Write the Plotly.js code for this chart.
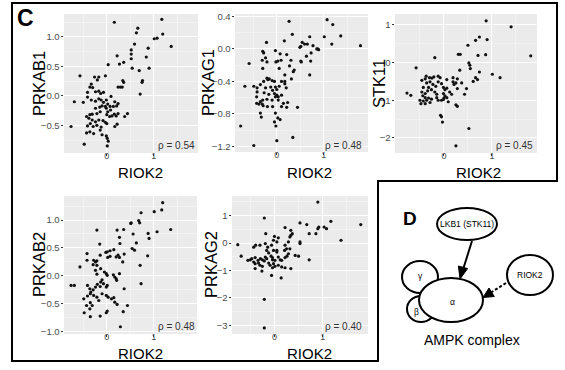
<!DOCTYPE html>
<html><head><meta charset="utf-8">
<script src="https://cdn.plot.ly/plotly-3.0.1.min.js"></script>
<style>html,body{margin:0;padding:0;background:#fff}#plot{width:565px;height:370px}</style>
</head><body><div id="plot"></div>
<script>
// ---------- data ----------
const panelNames = ["PRKAB1","PRKAG1","STK11","PRKAB2","PRKAG2"];
const xName = "RIOK2";
const rhoLabels = ["ρ = 0.54","ρ = 0.48","ρ = 0.45","ρ = 0.48","ρ = 0.40"];
const xTickVals = [0, 1];

const PRKAB1_pts = [[0.16,1.25],[1.17,1.30],[0.66,1.15],[0.63,1.07],[1.19,1.05],[1.01,0.97],[1.07,0.98],[1.37,0.84],[0.59,0.88],[0.52,0.78],[0.88,0.81],[0.52,0.71],[0.22,0.68],[0.52,0.63],[0.84,0.66],[0.36,0.57],[0.27,0.54],[0.03,0.53],[0.54,0.47],[0.69,0.43],[0.90,0.47],[-0.57,0.34],[-0.26,0.32],[-0.17,0.32],[-0.03,0.34],[-0.20,0.27],[0.34,0.26],[0.36,0.23],[0.76,0.26],[0.75,0.23],[-0.33,0.20],[0.24,0.15],[0.29,0.15],[0.33,0.15],[-0.36,0.15],[-0.30,0.14],[-0.41,0.06],[-0.24,0.07],[-0.17,0.08],[-0.13,0.04],[-0.07,0.06],[0.71,0.03],[-0.69,-0.10],[-0.50,-0.11],[-0.41,-0.02],[-0.33,-0.07],[-0.24,-0.09],[-0.17,-0.05],[-0.12,-0.07],[-0.07,-0.11],[-0.01,-0.07],[0.02,-0.14],[-0.03,-0.18],[-0.01,-0.21],[0.07,-0.18],[0.14,-0.18],[0.21,-0.17],[0.17,-0.10],[0.24,-0.13],[0.08,-0.24],[0.02,-0.27],[0.24,-0.30],[0.20,-0.34],[0.16,-0.31],[0.00,-0.32],[0.06,-0.35],[0.11,-0.34],[0.44,-0.30],[0.38,-0.35],[-0.43,-0.35],[-0.36,-0.32],[-0.31,-0.31],[-0.21,-0.30],[-0.14,-0.27],[-0.24,-0.21],[-0.15,-0.19],[-0.10,-0.17],[-0.38,-0.38],[-0.31,-0.41],[-0.24,-0.44],[-0.17,-0.41],[-0.08,-0.42],[-0.03,-0.45],[-0.35,-0.47],[-0.41,-0.51],[-0.29,-0.52],[-0.21,-0.50],[-0.12,-0.53],[0.00,-0.47],[0.22,-0.48],[0.17,-0.52],[-0.76,-0.52],[-0.43,-0.63],[-0.36,-0.61],[-0.28,-0.64],[-0.14,-0.58],[-0.10,-0.66],[-0.01,-0.68],[0.01,-0.72],[0.03,-0.77],[-0.48,-0.82],[0.01,-0.85],[0.09,-0.01]];

const PRKAG1_pts = [[0.26,0.34],[1.07,0.36],[1.19,0.30],[0.33,0.18],[0.70,0.15],[1.01,0.15],[1.36,0.16],[1.78,0.04],[1.17,0.06],[0.16,0.10],[-0.22,0.08],[0.54,0.08],[0.59,0.06],[0.65,0.06],[0.51,0.03],[0.49,0.02],[0.77,0.04],[0.87,0.00],[0.89,-0.01],[0.85,0.00],[-0.03,-0.02],[-0.30,-0.03],[-0.28,-0.05],[0.07,-0.06],[0.21,-0.07],[0.73,-0.05],[0.63,-0.09],[0.52,-0.16],[0.51,-0.15],[0.72,-0.15],[-0.24,-0.11],[-0.31,-0.14],[-0.59,-0.18],[-0.21,-0.16],[-0.02,-0.16],[0.02,-0.15],[0.09,-0.14],[0.30,-0.14],[-0.30,-0.24],[0.05,-0.24],[0.27,-0.21],[0.37,-0.26],[0.35,-0.28],[0.70,-0.32],[0.17,-0.32],[0.31,-0.37],[-0.21,-0.36],[-0.19,-0.38],[-0.16,-0.37],[-0.28,-0.40],[-0.10,-0.39],[-0.05,-0.40],[0.10,-0.40],[0.17,-0.40],[-0.68,-0.46],[-0.49,-0.46],[-0.42,-0.48],[-0.35,-0.44],[-0.24,-0.48],[-0.13,-0.47],[-0.09,-0.51],[-0.03,-0.47],[0.00,-0.50],[0.05,-0.46],[0.17,-0.43],[0.20,-0.48],[-0.42,-0.53],[-0.27,-0.54],[-0.17,-0.56],[-0.05,-0.55],[0.00,-0.57],[-0.03,-0.59],[0.03,-0.59],[0.10,-0.57],[-0.43,-0.59],[-0.30,-0.63],[-0.21,-0.62],[-0.10,-0.63],[0.03,-0.63],[0.14,-0.67],[0.23,-0.66],[0.44,-0.72],[-0.43,-0.67],[-0.38,-0.68],[-0.35,-0.65],[-0.31,-0.68],[-0.29,-0.70],[-0.20,-0.71],[-0.09,-0.71],[0.10,-0.71],[0.21,-0.72],[-0.35,-0.79],[-0.33,-0.84],[-0.03,-0.79],[0.02,-0.85],[0.07,-0.87],[-0.05,-0.90],[-0.02,-0.95],[-0.77,-0.95],[0.00,-1.13],[0.34,-1.09],[-0.49,-1.19]];

const STK11_pts = [[0.88,1.11],[1.40,0.95],[0.74,0.68],[0.66,0.59],[0.90,0.61],[0.50,0.46],[0.30,0.22],[0.34,0.22],[-0.19,0.13],[0.71,0.19],[0.87,0.21],[1.81,0.18],[0.52,-0.01],[0.54,-0.07],[-0.58,-0.14],[0.55,-0.16],[0.33,-0.20],[0.74,-0.25],[1.01,-0.31],[1.17,-0.40],[-0.37,-0.36],[-0.30,-0.40],[-0.25,-0.41],[-0.21,-0.38],[-0.12,-0.36],[-0.08,-0.40],[-0.46,-0.47],[-0.39,-0.43],[0.06,-0.45],[0.19,-0.40],[0.28,-0.43],[0.66,-0.40],[0.70,-0.45],[0.61,-0.50],[-0.36,-0.54],[-0.29,-0.51],[-0.23,-0.58],[-0.12,-0.51],[-0.05,-0.56],[0.19,-0.51],[0.21,-0.58],[0.25,-0.54],[0.37,-0.54],[-0.17,-0.63],[-0.43,-0.66],[-0.32,-0.66],[-0.26,-0.72],[-0.01,-0.66],[0.02,-0.72],[0.06,-0.68],[0.28,-0.69],[0.47,-0.69],[-0.77,-0.81],[-0.69,-0.87],[-0.46,-0.78],[-0.39,-0.82],[-0.34,-0.75],[-0.19,-0.78],[-0.15,-0.84],[-0.01,-0.82],[0.02,-0.88],[0.06,-0.93],[0.00,-0.94],[0.12,-0.78],[0.16,-0.84],[0.43,-0.84],[-0.44,-0.88],[-0.39,-0.93],[-0.32,-0.94],[-0.50,-1.00],[-0.43,-1.02],[-0.36,-1.00],[-0.26,-0.97],[-0.15,-0.93],[-0.12,-1.00],[-0.05,-1.00],[-0.01,-0.98],[-0.48,-1.09],[-0.39,-1.09],[-0.29,-1.06],[0.09,-1.04],[0.25,-1.12],[0.28,-1.16],[-0.07,-1.40],[-0.05,-1.44],[-0.03,-1.58],[0.52,-1.75],[0.25,-2.21]];

const PRKAB2_pts = [[1.19,1.31],[1.01,1.15],[1.17,1.18],[0.73,1.13],[0.68,0.99],[0.70,0.95],[0.52,0.95],[0.51,0.94],[-0.21,0.82],[0.22,0.82],[0.36,0.83],[1.36,0.83],[1.07,0.79],[0.88,0.76],[0.56,0.75],[0.27,0.69],[0.90,0.67],[0.63,0.59],[-0.15,0.57],[0.28,0.58],[0.54,0.49],[0.59,0.46],[0.15,0.47],[0.07,0.45],[0.01,0.43],[-0.02,0.42],[0.07,0.35],[0.02,0.33],[-0.42,0.40],[-0.14,0.37],[0.24,0.37],[0.27,0.33],[0.20,0.34],[0.37,0.39],[0.87,0.36],[-0.42,0.28],[-0.28,0.28],[-0.24,0.25],[-0.21,0.27],[-0.29,0.20],[-0.21,0.19],[0.34,0.25],[-0.57,0.16],[0.71,0.19],[-0.13,0.13],[-0.24,0.10],[-0.21,0.03],[-0.05,0.07],[-0.01,0.04],[0.01,0.01],[0.14,0.02],[0.17,-0.02],[0.20,-0.05],[0.21,-0.08],[0.27,0.04],[-0.76,-0.17],[-0.69,-0.17],[-0.41,-0.17],[-0.36,-0.23],[-0.29,-0.25],[-0.34,-0.29],[-0.35,-0.32],[-0.41,-0.36],[-0.24,-0.20],[-0.20,-0.15],[-0.14,-0.19],[-0.13,-0.11],[-0.10,-0.07],[-0.07,-0.14],[-0.01,-0.20],[0.01,-0.17],[0.37,-0.23],[0.73,-0.14],[-0.49,-0.41],[-0.28,-0.35],[-0.21,-0.38],[-0.10,-0.32],[-0.01,-0.35],[0.03,-0.38],[0.10,-0.41],[0.15,-0.39],[-0.17,-0.44],[-0.35,-0.48],[-0.31,-0.53],[0.17,-0.47],[0.22,-0.51],[0.44,-0.53],[-0.43,-0.53],[-0.36,-0.59],[-0.48,-0.66],[-0.35,-0.73],[-0.14,-0.72],[-0.01,-0.66],[0.01,-0.63],[0.35,-0.64],[0.29,-0.91]];

const PRKAG2_pts = [[0.90,1.49],[-0.21,0.91],[1.17,0.79],[0.53,0.73],[0.67,0.67],[1.79,0.67],[0.90,0.52],[0.92,0.58],[1.03,0.58],[1.08,0.52],[0.22,0.56],[0.34,0.46],[0.37,0.34],[0.34,0.28],[0.32,0.22],[0.72,0.34],[0.86,0.34],[-0.18,0.34],[0.00,0.24],[0.08,0.19],[1.38,0.10],[-0.76,-0.06],[-0.02,0.10],[0.05,0.04],[0.53,0.04],[0.53,-0.02],[0.29,0.04],[-0.39,-0.08],[-0.43,-0.15],[-0.30,-0.08],[-0.19,-0.02],[-0.14,-0.15],[-0.06,-0.08],[0.22,-0.08],[0.25,-0.21],[0.21,-0.27],[0.32,-0.21],[-0.16,-0.27],[-0.12,-0.36],[-0.02,-0.27],[0.05,-0.33],[0.05,-0.27],[0.29,-0.39],[0.26,-0.48],[0.22,-0.53],[0.43,-0.45],[0.50,-0.48],[-0.69,-0.48],[-0.55,-0.63],[-0.50,-0.61],[-0.47,-0.57],[-0.40,-0.53],[-0.34,-0.63],[-0.29,-0.57],[-0.25,-0.61],[-0.19,-0.51],[-0.16,-0.57],[-0.21,-0.65],[-0.07,-0.48],[-0.04,-0.53],[-0.04,-0.61],[0.01,-0.63],[0.08,-0.51],[0.12,-0.61],[0.15,-0.63],[0.72,-0.61],[-0.43,-0.69],[-0.40,-0.75],[-0.33,-0.73],[-0.30,-0.81],[-0.25,-0.85],[-0.12,-0.73],[-0.09,-0.81],[-0.02,-0.75],[0.01,-0.85],[-0.04,-0.90],[0.08,-0.81],[0.15,-0.87],[0.22,-0.90],[0.34,-0.93],[-0.40,-0.93],[-0.26,-1.02],[-0.06,-1.18],[0.14,-1.27],[-0.21,-2.05],[-0.21,-3.09]];

const allPts = [PRKAB1_pts, PRKAG1_pts, STK11_pts, PRKAB2_pts, PRKAG2_pts];

// ---------- layout helpers (pixel geometry) ----------
const W = 565, H = 370;
const PX = p => p / W, PY = p => 1 - p / H;
const FONT = "Liberation Sans, Arial, sans-serif";

// panel boxes in pixels: [left, right, top, bottom]
const boxes = [[64,198,14,153],[235,368,14,152],[395,537,14,153],[64,197,196,334],[232,368,196,334]];
const xRanges = [[-0.91,1.94],[-0.89,1.94],[-1.02,1.94],[-0.91,1.92],[-0.88,1.94]];
const yRanges = [[-0.97,1.39],[-1.27,0.43],[-2.4,1.29],[-1.04,1.43],[-3.31,1.71]];
const yDtick = [0.5,0.4,1,0.5,1];
const yFmt = [".1f",".1f","d",".1f","d"];
const yTitlePos = [[39,84],[208,83],[379,84],[39,265],[211,265]];
const xTitlePos = [[140,172],[309,172],[478,172],[140,353],[309,353]];
const rhoPos = [[197,145.5],[364,145.5],[535,145.5],[197,326.5],[364,326.5]];

const data = [];
const layout = {
  width: W, height: H, margin: {l:0,r:0,t:0,b:0},
  paper_bgcolor: "#ffffff", plot_bgcolor: "#EBEBEB",
  showlegend: false, font: {family: FONT, color: "#000"},
  annotations: [], shapes: []
};

allPts.forEach((pts, i) => {
  const n = i === 0 ? "" : String(i + 1);
  data.push({
    type: "scatter", mode: "markers",
    x: pts.map(p => p[0]), y: pts.map(p => p[1]),
    xaxis: "x" + n, yaxis: "y" + n,
    marker: {size: 3.2, color: "#111"}, hoverinfo: "skip"
  });
  const b = boxes[i];
  const common = {
    showgrid: true, gridcolor: "#ffffff", gridwidth: 1, zeroline: false, showline: false,
    ticks: "outside", ticklen: 2.5, tickwidth: 1, tickcolor: "#333",
    tickfont: {size: 9.5, color: "#4D4D4D", family: FONT}, fixedrange: true
  };
  layout["xaxis" + n] = Object.assign({}, common, {
    domain: [PX(b[0]), PX(b[1])], range: xRanges[i], anchor: "y" + n,
    tickmode: "array", tickvals: xTickVals, ticktext: xTickVals.map(String),
    ticklen: 2, ticklabelstandoff: -8, tickfont: {size: 9, color: "#4D4D4D", family: FONT},
    minor: {tick0: 0, dtick: 0.5, showgrid: true, gridcolor: "#F7F7F7", gridwidth: 0.6}
  });
  layout["yaxis" + n] = Object.assign({}, common, {
    domain: [PY(b[3]), PY(b[2])], range: yRanges[i], anchor: "x" + n,
    tick0: 0, dtick: yDtick[i], tickformat: yFmt[i], ticklabelstandoff: -1,
    minor: {tick0: 0, dtick: yDtick[i] / 2, showgrid: true, gridcolor: "#F7F7F7", gridwidth: 0.6}
  });
  layout.annotations.push({
    text: panelNames[i], xref: "paper", yref: "paper",
    x: PX(yTitlePos[i][0]), y: PY(yTitlePos[i][1]), xanchor: "center", yanchor: "middle",
    textangle: -90, showarrow: false, font: {size: 16.5, family: FONT, color: "#000"}
  });
  layout.annotations.push({
    text: xName, xref: "paper", yref: "paper",
    x: PX(xTitlePos[i][0]), y: PY(xTitlePos[i][1]), xanchor: "center", yanchor: "middle",
    showarrow: false, font: {size: 15, family: FONT, color: "#000"}
  });
  layout.annotations.push({
    text: rhoLabels[i], xref: "paper", yref: "paper",
    x: PX(rhoPos[i][0]), y: PY(rhoPos[i][1]), xanchor: "right", yanchor: "middle",
    showarrow: false, font: {size: 10, family: FONT, color: "#333"}
  });
});

// panel letters
layout.annotations.push({text: "<b>C</b>", xref:"paper", yref:"paper", x: PX(25), y: PY(18),
  xanchor:"center", yanchor:"middle", showarrow:false, font:{size:23, family:FONT, color:"#000"}});
layout.annotations.push({text: "<b>D</b>", xref:"paper", yref:"paper", x: PX(410), y: PY(219),
  xanchor:"center", yanchor:"middle", showarrow:false, font:{size:19, family:FONT, color:"#000"}});

// panel C border (L-shaped)
const poly = pts => "M " + pts.map(p => PX(p[0]) + "," + PY(p[1])).join(" L ") + " Z";
layout.shapes.push({type:"path", xref:"paper", yref:"paper",
  path: poly([[12,3],[557,3],[557,181],[378,181],[378,361],[12,361]]),
  line:{color:"#000", width:2}, fillcolor:"rgba(0,0,0,0)"});

// diagram D
const ell = (cx, cy, rx, ry) => ({type:"circle", xref:"paper", yref:"paper",
  x0: PX(cx - rx), x1: PX(cx + rx), y0: PY(cy + ry), y1: PY(cy - ry),
  line:{color:"#000", width:2}, fillcolor:"#fff"});
layout.shapes.push(ell(467, 224, 30, 16));   // LKB1
layout.shapes.push(ell(421, 309, 14, 13));   // beta
layout.shapes.push(ell(420, 277, 18, 16));   // gamma
layout.shapes.push(ell(451, 300, 32, 22));   // alpha
layout.shapes.push(ell(530, 275, 23, 20));   // RIOK2
// solid arrow LKB1 -> alpha
layout.shapes.push({type:"line", xref:"paper", yref:"paper", x0:PX(472), y0:PY(241), x1:PX(463.5), y1:PY(268),
  line:{color:"#000", width:2}});
layout.shapes.push({type:"path", xref:"paper", yref:"paper",
  path: poly([[460,279],[467.6,268.6],[458.4,266]]), line:{color:"#000", width:1}, fillcolor:"#000"});
// dashed arrow RIOK2 -> alpha
layout.shapes.push({type:"line", xref:"paper", yref:"paper", x0:PX(506), y0:PY(283), x1:PX(491), y1:PY(292.5),
  line:{color:"#000", width:2, dash:"3px,2px"}});
layout.shapes.push({type:"path", xref:"paper", yref:"paper",
  path: poly([[483,297.5],[494.3,296.5],[489,288]]), line:{color:"#000", width:1}, fillcolor:"#000"});

const lab = (t, x, y, s) => ({text:t, xref:"paper", yref:"paper", x:PX(x), y:PY(y), xanchor:"center", yanchor:"middle",
  showarrow:false, font:{size:s, family:FONT, color:"#000"}});
layout.annotations.push(lab("LKB1 (STK11)", 467, 224, 8.5));
layout.annotations.push(lab("RIOK2", 530, 275, 8.5));
layout.annotations.push(lab("γ", 420, 276, 8.5));
layout.annotations.push(lab("β", 417, 312, 8.5));
layout.annotations.push(lab("α", 452, 302, 8.5));
layout.annotations.push(lab("AMPK complex", 472, 340, 14));

Plotly.newPlot("plot", data, layout, {staticPlot: true, displayModeBar: false});
</script></body></html>
